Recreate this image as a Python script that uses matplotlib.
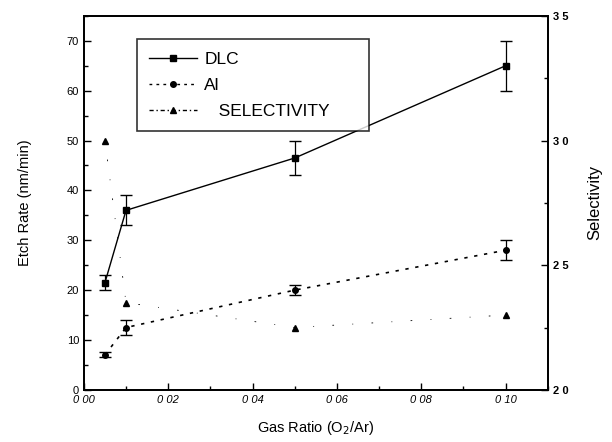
import numpy as np
import matplotlib
matplotlib.use('Agg')
import matplotlib.pyplot as plt
from matplotlib.lines import Line2D
from matplotlib.ticker import MultipleLocator, FixedLocator

plt.rcParams['font.family'] = ['Liberation Sans', 'DejaVu Sans']

# gas ratio O2/Ar
gas_ratio = [0.005, 0.01, 0.05, 0.10]

# etch rates (nm/min) with error bar extents
dlc_rate = [21.5, 36.0, 46.5, 65.0]
dlc_err = [1.5, 3.0, 3.5, 5.0]
al_rate = [7.0, 12.5, 20.0, 28.0]
al_err = [0.5, 1.5, 1.0, 2.0]

# selectivity (right axis)
selectivity = [3.0, 2.35, 2.25, 2.30]

x_ticks = [0.00, 0.02, 0.04, 0.06, 0.08, 0.10]
x_tick_labels = ['0 00', '0 02', '0 04', '0 06', '0 08', '0 10']
y2_ticks = [2.0, 2.5, 3.0, 3.5]
y2_tick_labels = ['2 0', '2 5', '3 0', '3 5']

fig = plt.figure(figsize=(6.12, 4.42), dpi=100)
ax = fig.add_axes([0.137, 0.118, 0.758, 0.846])
ax2 = ax.twinx()

ax.errorbar(gas_ratio, dlc_rate, yerr=dlc_err, color='k', lw=1.0, marker='s',
            ms=5, capsize=4, elinewidth=0.9, capthick=1.0)
ax.errorbar(gas_ratio, al_rate, yerr=al_err, color='k', lw=1.2, ls=(0, (2, 4)),
            marker='o', ms=4, capsize=4, elinewidth=0.9, capthick=1.0)
ax2.plot(gas_ratio, selectivity, color='k', lw=0.6, ls=(0, (1, 22, 2, 22)),
         marker='^', ms=5)

ax.set_xlim(0, 0.11)
ax.set_ylim(0, 75)
ax2.set_ylim(2.0, 3.5)

ax.xaxis.set_major_locator(FixedLocator(x_ticks))
ax.set_xticklabels(x_tick_labels, fontsize=8, style='italic')
ax.xaxis.set_minor_locator(MultipleLocator(0.01))
ax.yaxis.set_major_locator(MultipleLocator(10))
ax.yaxis.set_minor_locator(MultipleLocator(5))
ax.tick_params(axis='y', labelsize=8)
ax.tick_params(which='both', direction='in')
ax.tick_params(which='major', length=5, width=1.0)
ax.tick_params(which='minor', length=3, width=1.0)
ax.tick_params(top=False)

ax2.yaxis.set_major_locator(FixedLocator(y2_ticks))
ax2.set_yticklabels(y2_tick_labels, fontsize=8, fontweight='bold')
ax2.yaxis.set_minor_locator(MultipleLocator(0.25))
ax2.tick_params(which='both', direction='in')
ax2.tick_params(which='major', length=5, width=1.0)
ax2.tick_params(which='minor', length=3, width=1.0)

for a in (ax, ax2):
    for s in a.spines.values():
        s.set_linewidth(1.3)

ax.set_ylabel('Etch Rate (nm/min)', fontsize=10.5, labelpad=25)
ax2.set_ylabel('Selectivity', fontsize=12, labelpad=14)
ax.set_xlabel('Gas Ratio (O$_2$/Ar)', fontsize=10.5, labelpad=10)

legend_elements = [Line2D([0], [0], color='k', lw=1.0, marker='s', ms=5, label='DLC'),
                   Line2D([0], [0], color='k', lw=1.0, ls=(0, (2, 3)), marker='o', ms=4, label='Al'),
                   Line2D([0], [0], color='k', lw=1.0, ls=(0, (3, 2, 1, 2)), marker='^', ms=5,
                          label='   SELECTIVITY')]
lg = ax.legend(handles=legend_elements, loc='upper left', bbox_to_anchor=(0.114, 0.0, 0.5, 0.937),
               mode='expand', fontsize=12.5, frameon=True, fancybox=False, edgecolor='k',
               handlelength=2.8, handletextpad=0.4, borderpad=0.7, labelspacing=0.62,
               borderaxespad=0)
lg.get_frame().set_linewidth(1.2)

fig.savefig('out.png', dpi=100)
